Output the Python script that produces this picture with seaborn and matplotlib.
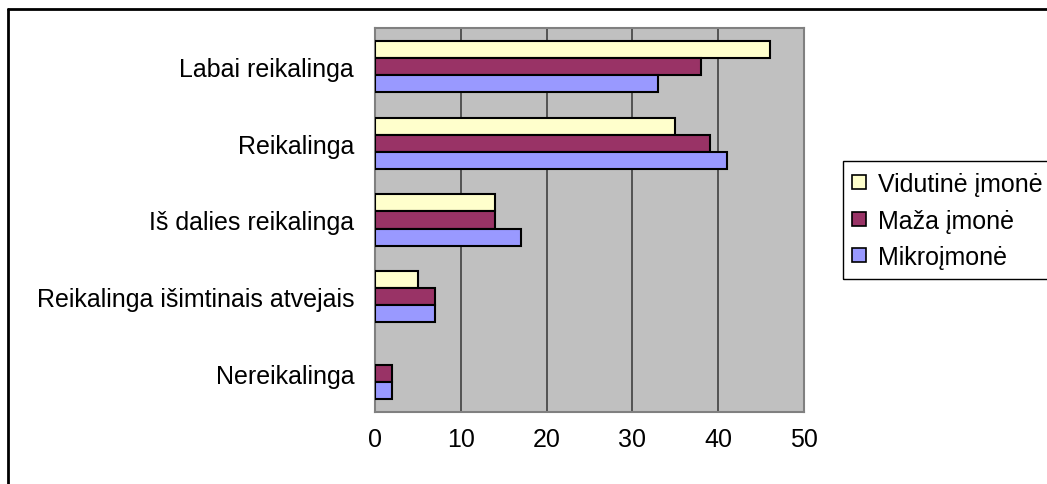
"""
Poreikis pagal įmonių dydį - horizontalios stulpelinės diagramos atkūrimas
"""

import pandas as pd
import matplotlib
matplotlib.use("Agg")
import matplotlib.pyplot as plt
from matplotlib.patches import Rectangle
from matplotlib.lines import Line2D
import seaborn as sns

# Duomenys
kategorijos = ["Labai reikalinga", "Reikalinga", "Iš dalies reikalinga",
               "Reikalinga išimtinais atvejais", "Nereikalinga"]
vidutine = [46, 35, 14, 5, 0]
maza = [38, 39, 14, 7, 2]
mikro = [33, 41, 17, 7, 2]
serijos = ["Vidutinė įmonė", "Maža įmonė", "Mikroįmonė"]
spalvos = ["#FFFFCC", "#993366", "#9999FF"]
x_ticks = [0, 10, 20, 30, 40, 50]

df = pd.DataFrame({
    "kategorija": kategorijos * 3,
    "reiksme": vidutine + maza + mikro,
    "serija": [s for s in serijos for _ in kategorijos],
})

sns.set_style("white")
plt.rcParams["font.family"] = ["Liberation Sans", "DejaVu Sans"]
plt.rcParams["text.color"] = "black"

W, H = 1047, 485
fig = plt.figure(figsize=(W / 100, H / 100), dpi=100)
ax = fig.add_axes([375 / W, 1 - 413 / H, (804 - 375) / W, (413 - 29) / H])
ax.set_facecolor("#C0C0C0")

sns.barplot(data=df, y="kategorija", x="reiksme", hue="serija",
            order=kategorijos, hue_order=serijos, palette=spalvos,
            orient="h", width=3 / 4.5, gap=0, edgecolor="black",
            linewidth=1.5, saturation=1, ax=ax, legend=False, zorder=3)

# nulinių stulpelių nerodome
for p in ax.patches:
    if p.get_width() == 0:
        p.set_visible(False)

ax.set_xlim(0, 50)
ax.set_ylim(4.5, -0.5)
ax.set_xticks(x_ticks)
ax.set_xticklabels([str(t) for t in x_ticks], fontsize=18)
ax.set_xlabel("")
ax.set_ylabel("")

# kategorijų ribos kaip smulkios žymės
ax.set_yticks(range(len(kategorijos)))
ax.set_yticklabels(kategorijos, fontsize=18)
ax.set_yticks([i - 0.5 for i in range(len(kategorijos) + 1)], minor=True)
ax.tick_params(axis="y", which="major", length=0, pad=15, labelcolor="black")
ax.tick_params(axis="y", which="minor", length=6, width=1.3, color="#808080")
ax.tick_params(axis="x", length=6, width=1.3, color="#808080", pad=5,
               labelcolor="black")

ax.xaxis.grid(True, color="#404040", linewidth=1.2, zorder=0)
ax.set_axisbelow(True)
for lado, sp in ax.spines.items():
    sp.set_visible(True)
    sp.set_color("#808080")
    sp.set_linewidth(1.5)

# legenda
handles = [Rectangle((0, 0), 1, 1, facecolor=c, edgecolor="black", linewidth=1.2)
           for c in spalvos]
fig.legend(handles, serijos, loc="upper left",
           bbox_to_anchor=(842 / W, 1 - 163 / H), frameon=False,
           fontsize=18, handlelength=0.55, handleheight=0.5,
           handletextpad=0.5, labelspacing=0.5, borderaxespad=0,
           labelcolor="black")
fig.add_artist(Rectangle((843 / W, 1 - 280 / H), 220 / W, 118 / H,
                         transform=fig.transFigure, fill=False,
                         edgecolor="black", linewidth=1.0))

# rėmelis
fig.add_artist(Line2D([8 / W, 1], [1 - 10 / H, 1 - 10 / H],
                      transform=fig.transFigure, color="black", linewidth=2))
fig.add_artist(Line2D([8 / W, 8 / W], [0, 1 - 10 / H],
                      transform=fig.transFigure, color="black", linewidth=2))

fig.savefig("out.png", dpi=100)
